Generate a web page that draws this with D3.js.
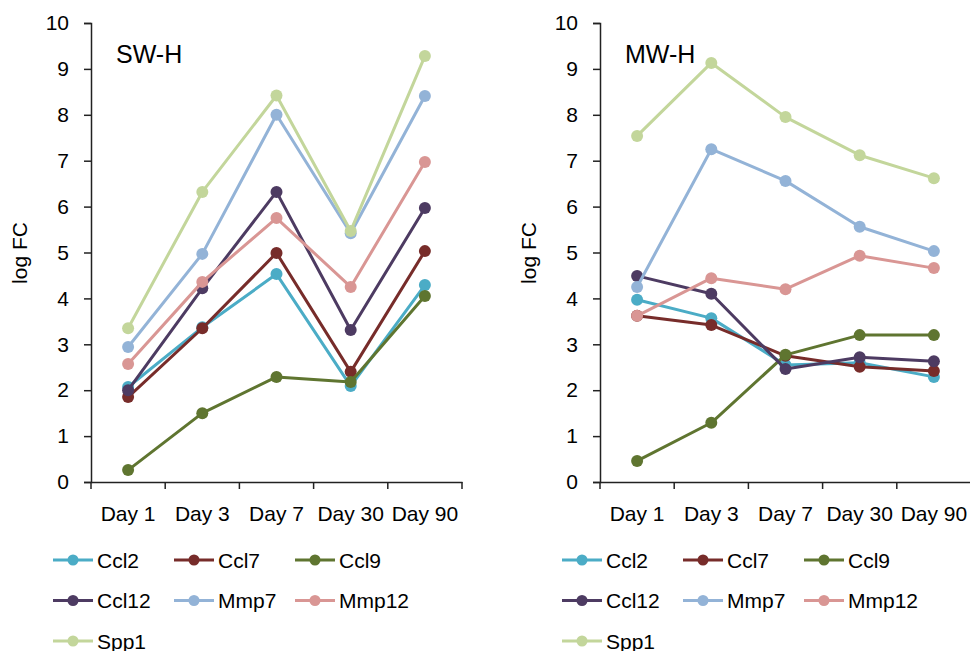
<!DOCTYPE html>
<html>
<head>
<meta charset="utf-8">
<script src="https://cdn.jsdelivr.net/npm/d3@7"></script>
<style>
  body { margin: 0; background: #fff; }
  svg { font-family: "Liberation Sans", Arial, sans-serif; }
</style>
</head>
<body>
<svg id="chart" width="970" height="651"></svg>
<script>
const days = ["Day 1", "Day 3", "Day 7", "Day 30", "Day 90"];
const genes = ["Ccl2", "Ccl7", "Ccl9", "Ccl12", "Mmp7", "Mmp12", "Spp1"];
const colors = ["#4bacc6", "#772c2a", "#5f7530", "#4d3b62", "#93b3d7", "#d99694", "#c3d69b"];
const yTicks = [0, 1, 2, 3, 4, 5, 6, 7, 8, 9, 10];

// SW-H values, one array per gene
const swCcl2 = [2.07, 3.37, 4.53, 2.09, 4.29];
const swCcl7 = [1.85, 3.35, 4.99, 2.40, 5.03];
const swCcl9 = [0.26, 1.50, 2.29, 2.18, 4.05];
const swCcl12 = [2.00, 4.22, 6.32, 3.31, 5.97];
const swMmp7 = [2.94, 4.97, 8.00, 5.42, 8.41];
const swMmp12 = [2.57, 4.36, 5.75, 4.25, 6.97];
const swSpp1 = [3.35, 6.32, 8.42, 5.47, 9.28];

// MW-H values
const mwCcl2 = [3.97, 3.57, 2.55, 2.60, 2.29];
const mwCcl7 = [3.62, 3.42, 2.75, 2.51, 2.42];
const mwCcl9 = [0.46, 1.29, 2.77, 3.20, 3.20];
const mwCcl12 = [4.49, 4.10, 2.46, 2.72, 2.63];
const mwMmp7 = [4.25, 7.25, 6.56, 5.56, 5.03];
const mwMmp12 = [3.62, 4.44, 4.20, 4.93, 4.66];
const mwSpp1 = [7.54, 9.13, 7.95, 7.12, 6.62];

const panels = [
  { title: "SW-H", x0: 91, series: [swCcl2, swCcl7, swCcl9, swCcl12, swMmp7, swMmp12, swSpp1] },
  { title: "MW-H", x0: 600, series: [mwCcl2, mwCcl7, mwCcl9, mwCcl12, mwMmp7, mwMmp12, mwSpp1] }
];

const svg = d3.select("#chart");
const bandW = 74.2;
const fs = 21;
const y = d3.scaleLinear().domain([0, 10]).range([482, 23]);

panels.forEach((p) => {
  const g = svg.append("g");
  const x = d3.scaleBand().domain(days).range([p.x0, p.x0 + bandW * 5]);

  // axes
  const yAxis = g.append("g")
    .attr("transform", `translate(${p.x0},0)`)
    .call(d3.axisLeft(y).tickValues(yTicks).tickSize(7).tickPadding(15));
  yAxis.selectAll("text").attr("font-size", fs).attr("fill", "#000")
    .attr("font-family", "Liberation Sans, Arial, sans-serif");

  const xAxis = g.append("g")
    .attr("transform", `translate(0,${y(0)})`)
    .call(d3.axisBottom(x).tickSize(0).tickPadding(24));
  xAxis.selectAll("text").attr("font-size", fs).attr("fill", "#000")
    .attr("font-family", "Liberation Sans, Arial, sans-serif");
  // tick marks at band edges
  xAxis.selectAll(".edge")
    .data(d3.range(6))
    .join("line")
    .attr("x1", (i) => p.x0 + i * bandW)
    .attr("x2", (i) => p.x0 + i * bandW)
    .attr("y1", 0)
    .attr("y2", 7)
    .attr("stroke", "#222")
    .attr("stroke-width", 1.5);

  g.selectAll(".domain").attr("stroke", "#222").attr("stroke-width", 1.5);
  g.selectAll(".tick line").attr("stroke", "#222").attr("stroke-width", 1.5);

  g.append("text")
    .attr("transform", `translate(${p.x0 - 64},253) rotate(-90)`)
    .attr("text-anchor", "middle")
    .attr("font-size", fs)
    .text("log FC");

  g.append("text")
    .attr("x", p.x0 + 25)
    .attr("y", 63)
    .attr("font-size", 25)
    .text(p.title);

  const line = d3.line()
    .x((d, i) => x(days[i]) + x.bandwidth() / 2)
    .y((d) => y(d));

  p.series.forEach((vals, k) => {
    const s = g.append("g");
    s.append("path")
      .attr("d", line(vals))
      .attr("fill", "none")
      .attr("stroke", colors[k])
      .attr("stroke-width", 3)
      .attr("stroke-linejoin", "round");
    s.selectAll("circle")
      .data(vals)
      .join("circle")
      .attr("cx", (d, i) => x(days[i]) + x.bandwidth() / 2)
      .attr("cy", (d) => y(d))
      .attr("r", 6)
      .attr("fill", colors[k]);
  });

  // legend
  const lg = g.append("g").attr("transform", `translate(${p.x0 - 38},0)`);
  genes.forEach((name, k) => {
    const col = k % 3, row = Math.floor(k / 3);
    const lx = col * 121, ly = 560 + row * 40.5;
    lg.append("line")
      .attr("x1", lx).attr("x2", lx + 40)
      .attr("y1", ly).attr("y2", ly)
      .attr("stroke", colors[k]).attr("stroke-width", 3);
    lg.append("circle")
      .attr("cx", lx + 20).attr("cy", ly).attr("r", 5.5)
      .attr("fill", colors[k]);
    lg.append("text")
      .attr("x", lx + 44).attr("y", ly + 7.5)
      .attr("font-size", fs)
      .text(name);
  });
});
</script>
</body>
</html>
